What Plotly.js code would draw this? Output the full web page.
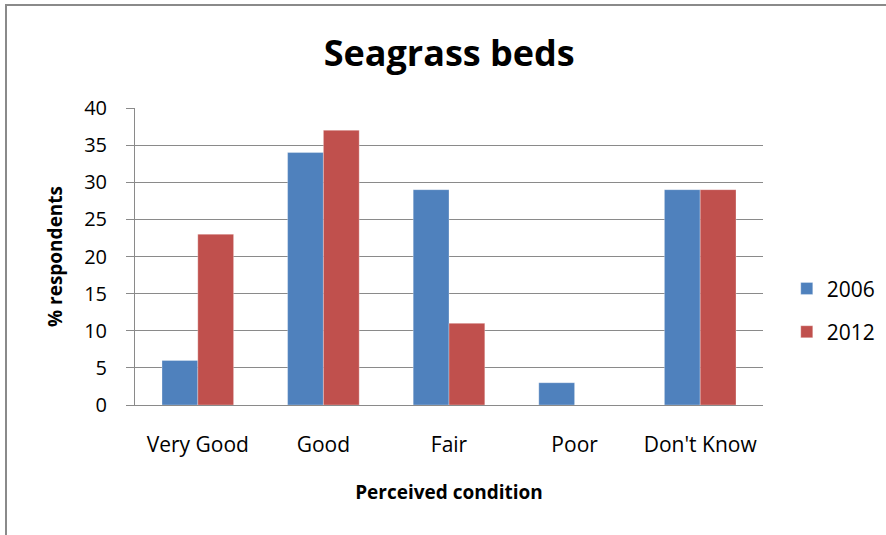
<!DOCTYPE html>
<html>
<head>
<meta charset="utf-8">
<script src="https://cdn.plot.ly/plotly-3.0.1.min.js"></script>
<style>
html,body{margin:0;padding:0;background:#fff;}
#wrap{position:relative;width:886px;height:535px;overflow:hidden;}
#frame{position:absolute;left:5px;top:4px;width:1000px;height:1000px;border-left:2px solid #8a8a8a;border-top:2px solid #8a8a8a;pointer-events:none;}
#chart{position:absolute;left:0;top:0;width:886px;height:535px;}
</style>
</head>
<body>
<div id="wrap"><div id="chart"></div><div id="frame"></div></div>
<script>
const categories = ["Very Good", "Good", "Fair", "Poor", "Don't Know"];
const series2006 = [6, 34, 29, 3, 29];
const series2012 = [23, 37, 11, 0, 29];
const yTicks = [0, 5, 10, 15, 20, 25, 30, 35, 40];

const font = "Open Sans, Noto Sans, sans-serif";
const traces = [
  {type: "bar", name: "2006", x: categories, y: series2006, legendgroup: "a",
   marker: {color: "#4F81BD", line: {color: "rgba(255,255,255,0.6)", width: 0.5}}},
  {type: "bar", name: "2012", x: categories, y: series2012, legendgroup: "b",
   marker: {color: "#C0504D", line: {color: "rgba(255,255,255,0.6)", width: 0.5}}}
];
const layout = {
  width: 886, height: 535,
  margin: {l: 135, r: 123, t: 108, b: 130},
  paper_bgcolor: "#fff", plot_bgcolor: "#fff",
  bargap: 0.43, bargroupgap: 0,
  title: {text: "<b>Seagrass beds</b>", x: 0.507, xanchor: "center", y: 0.9, yanchor: "middle",
          yref: "container", font: {family: font, size: 36, color: "#000"}},
  xaxis: {
    showgrid: false, showline: true, linecolor: "#8a8a8a", linewidth: 1,
    ticks: "", ticklabelstandoff: 21,
    tickfont: {family: font, size: 21, color: "#000"},
    title: {text: "<b>Perceived condition</b>", standoff: 28, font: {family: font, size: 19, color: "#000"}}
  },
  yaxis: {
    range: [0, 40], tickvals: yTicks, showgrid: true, gridcolor: "#8a8a8a", gridwidth: 1,
    showline: true, linecolor: "#8a8a8a", linewidth: 1, zeroline: false,
    ticks: "outside", ticklen: 8, tickcolor: "#8a8a8a",
    ticklabelstandoff: 15,
    tickfont: {family: font, size: 20, color: "#000"},
    title: {text: "<b>% respondents</b>", standoff: 16, font: {family: font, size: 19, color: "#000"}}
  },
  legend: {x: 0.888, xref: "container", xanchor: "left", y: 0.42, yref: "container", yanchor: "middle",
           font: {family: font, size: 21, color: "#000"},
           traceorder: "grouped", tracegroupgap: 13, bgcolor: "rgba(0,0,0,0)"},
  showlegend: true
};
Plotly.newPlot("chart", traces, layout, {displayModeBar: false, staticPlot: true});
</script>
</body>
</html>
